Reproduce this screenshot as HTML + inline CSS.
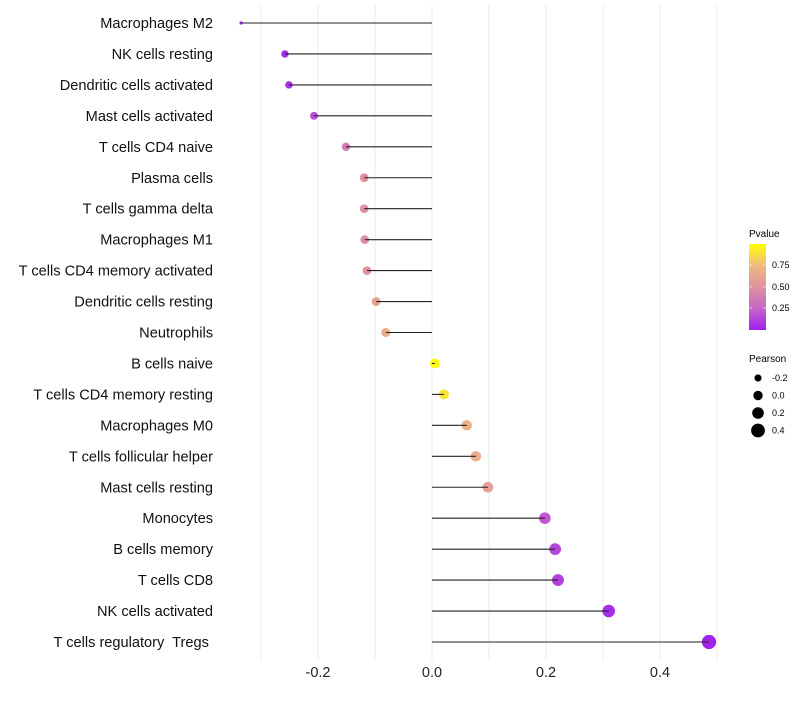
<!DOCTYPE html>
<html><head><meta charset="utf-8"><style>
body{margin:0;background:#fff;}
svg{font-family:"Liberation Sans",sans-serif;}
</style></head><body>
<svg id="chart" width="800" height="700">
<defs><linearGradient id="pg" x1="0" y1="1" x2="0" y2="0">
<stop offset="0" stop-color="#A020F0"/><stop offset="0.25" stop-color="#C565C8"/><stop offset="0.5" stop-color="#DE92A0"/><stop offset="0.75" stop-color="#F0BA80"/><stop offset="1" stop-color="#FFFF00"/></linearGradient></defs>
<g id="grid"></g><g id="marks"></g><g id="labels"></g>
<g font-size="9">
<text x="749" y="237" font-size="10">Pvalue</text>
<rect x="749" y="244" width="17" height="86" fill="url(#pg)"/>
<g stroke="#fff" stroke-opacity="0.6"><line x1="749" x2="752" y1="265" y2="265"/><line x1="763" x2="766" y1="265" y2="265"/><line x1="749" x2="752" y1="287" y2="287"/><line x1="763" x2="766" y1="287" y2="287"/><line x1="749" x2="752" y1="308" y2="308"/><line x1="763" x2="766" y1="308" y2="308"/></g>
<text x="772" y="268">0.75</text><text x="772" y="290">0.50</text><text x="772" y="311">0.25</text>
<text x="749" y="362" font-size="10">Pearson</text>
<g id="sizeleg"></g>
</g>
</svg>
<script>
const categories=["Macrophages M2","NK cells resting","Dendritic cells activated","Mast cells activated","T cells CD4 naive","Plasma cells","T cells gamma delta","Macrophages M1","T cells CD4 memory activated","Dendritic cells resting","Neutrophils","B cells naive","T cells CD4 memory resting","Macrophages M0","T cells follicular helper","Mast cells resting","Monocytes","B cells memory","T cells CD8","NK cells activated","T cells regulatory  Tregs "];
const pearson=[-0.335,-0.258,-0.251,-0.207,-0.151,-0.119,-0.119,-0.118,-0.114,-0.098,-0.081,0.005,0.021,0.061,0.077,0.098,0.198,0.216,0.221,0.31,0.486];
const pvalue=[0.02,0.05,0.06,0.17,0.38,0.5,0.5,0.5,0.52,0.6,0.68,0.98,0.9,0.7,0.66,0.58,0.2,0.14,0.12,0.05,0.01];
const xTicks=[-0.2,0.0,0.2,0.4];
const xTickLabels=["-0.2","0.0","0.2","0.4"];
const sizeLegend=[-0.2,0.0,0.2,0.4];
const sizeLegendLabels=["-0.2","0.0","0.2","0.4"];
const NS="http://www.w3.org/2000/svg";
const X=v=>432+v*570;
const Y=i=>23+i*30.95;
const R=v=>v<-0.3?1.6:Math.max(1.6,4.9+v*4.6);
const stops=[[0,[160,32,240]],[0.25,[197,101,200]],[0.5,[222,146,160]],[0.75,[240,186,128]],[1,[255,255,0]]];
function col(p){for(let k=1;k<stops.length;k++){if(p<=stops[k][0]){const a=stops[k-1],b=stops[k],t=(p-a[0])/(b[0]-a[0]);return "rgb("+a[1].map((c,j)=>Math.round(c+(b[1][j]-c)*t)).join(",")+")";}}return "rgb(255,255,0)";}
function mk(t,attrs,parent){const e=document.createElementNS(NS,t);for(const k in attrs)e.setAttribute(k,attrs[k]);parent.appendChild(e);return e;}
const grid=document.getElementById('grid'),marks=document.getElementById('marks'),labels=document.getElementById('labels');
for(let g=-0.3;g<=0.51;g+=0.1){const l=mk('line',{x1:X(g),x2:X(g),y1:5,y2:660,stroke:'#ebebeb','stroke-width':1},grid);

}
xTicks.forEach((t,i)=>{const e=mk('text',{x:X(t),y:677,'text-anchor':'middle','font-size':14.5,fill:'#222'},labels);e.textContent=xTickLabels[i];

});
categories.forEach((c,i)=>{
const y=Y(i);
const t=mk('text',{x:213,y:y+5,'text-anchor':'end','font-size':14.6,fill:'#111',style:'white-space:pre'},labels);t.textContent=c;


const p=mk('circle',{cx:X(pearson[i]),cy:y,r:R(pearson[i]),fill:col(pvalue[i])},marks);


const l=mk('line',{x1:X(0),x2:X(pearson[i]),y1:y,y2:y,stroke:'#222','stroke-width':1.1},marks);


});
const sl=document.getElementById('sizeleg');
sizeLegend.forEach((v,i)=>{const y=378+i*17.5;
const c=mk('circle',{cx:758,cy:y,r:3.6+i*1.1,fill:'#000'},sl);


const t=mk('text',{x:772,y:y+3},sl);t.textContent=sizeLegendLabels[i];

});
</script>
</body></html>
